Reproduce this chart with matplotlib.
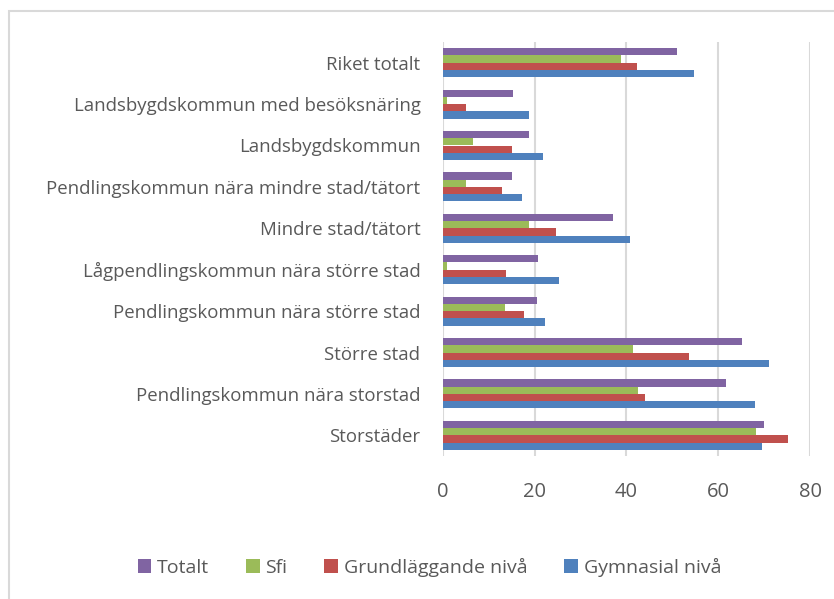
import matplotlib
matplotlib.use("Agg")
import matplotlib.pyplot as plt
import numpy as np
from matplotlib.patches import Rectangle

categories = ["Storstäder", "Pendlingskommun nära storstad", "Större stad",
              "Pendlingskommun nära större stad", "Lågpendlingskommun nära större stad",
              "Mindre stad/tätort", "Pendlingskommun nära mindre stad/tätort",
              "Landsbygdskommun", "Landsbygdskommun med besöksnäring", "Riket totalt"]
totalt = [69.9, 61.8, 65.1, 20.6, 20.7, 37.0, 15.0, 18.9, 15.3, 51.1]
sfi = [68.2, 42.6, 41.4, 13.6, 0.9, 18.7, 5.0, 6.6, 0.9, 38.9]
grund = [75.3, 44.0, 53.7, 17.6, 13.7, 24.6, 12.9, 15.2, 5.0, 42.4]
gymn = [69.5, 68.1, 71.0, 22.2, 25.4, 40.7, 17.2, 21.8, 18.9, 54.8]
series_names = ["Totalt", "Sfi", "Grundläggande nivå", "Gymnasial nivå"]
xticks = [0, 20, 40, 60, 80]

colors = ["#8064A2", "#9BBB59", "#C0504D", "#4F81BD"]
plt.rcParams['font.family'] = ['Open Sans', 'DejaVu Sans']
txt = "#595959"

fig = plt.figure(figsize=(8.34, 5.99), dpi=100)
fig.patches.append(Rectangle((9/834, -0.1), 1.0, 1 - 11/599 + 0.1, transform=fig.transFigure,
                             fill=False, edgecolor="#D9D9D9", linewidth=1.5))
ax = fig.add_axes([442.7/834, (599-456)/599, (810-442.7)/834, 414/599])

y = np.arange(len(categories))
bh = 0.175
data = [totalt, sfi, grund, gymn]
offsets = [1.5*bh, 0.5*bh, -0.5*bh, -1.5*bh]
handles = []
for vals, off, c, name in zip(data, offsets, colors, series_names):
    h = ax.barh(y + off, vals, height=bh, color=c, label=name, zorder=3, linewidth=0)
    handles.append(h)

ax.set_xlim(0, 80)
ax.set_ylim(-0.5, 9.5)
ax.set_xticks(xticks)
ax.set_xticklabels([str(v) for v in xticks], fontsize=14.5, color=txt)
ax.set_yticks(y)
ax.set_yticklabels(categories, fontsize=13.4, color=txt)
ax.tick_params(axis='both', length=0)
ax.tick_params(axis='x', pad=19)
ax.tick_params(axis='y', pad=16)
ax.grid(axis='x', color="#D9D9D9", linewidth=1.5, zorder=0)
for s in ax.spines.values():
    s.set_visible(False)

leg = fig.legend(handles=handles, labels=series_names, loc="center", ncol=4,
                 bbox_to_anchor=(0.515, 32/599), frameon=False, fontsize=14,
                 handlelength=0.7, handleheight=0.7, handletextpad=0.3, columnspacing=1.9)
for t in leg.get_texts():
    t.set_color(txt)

fig.savefig("out.png", dpi=100)
